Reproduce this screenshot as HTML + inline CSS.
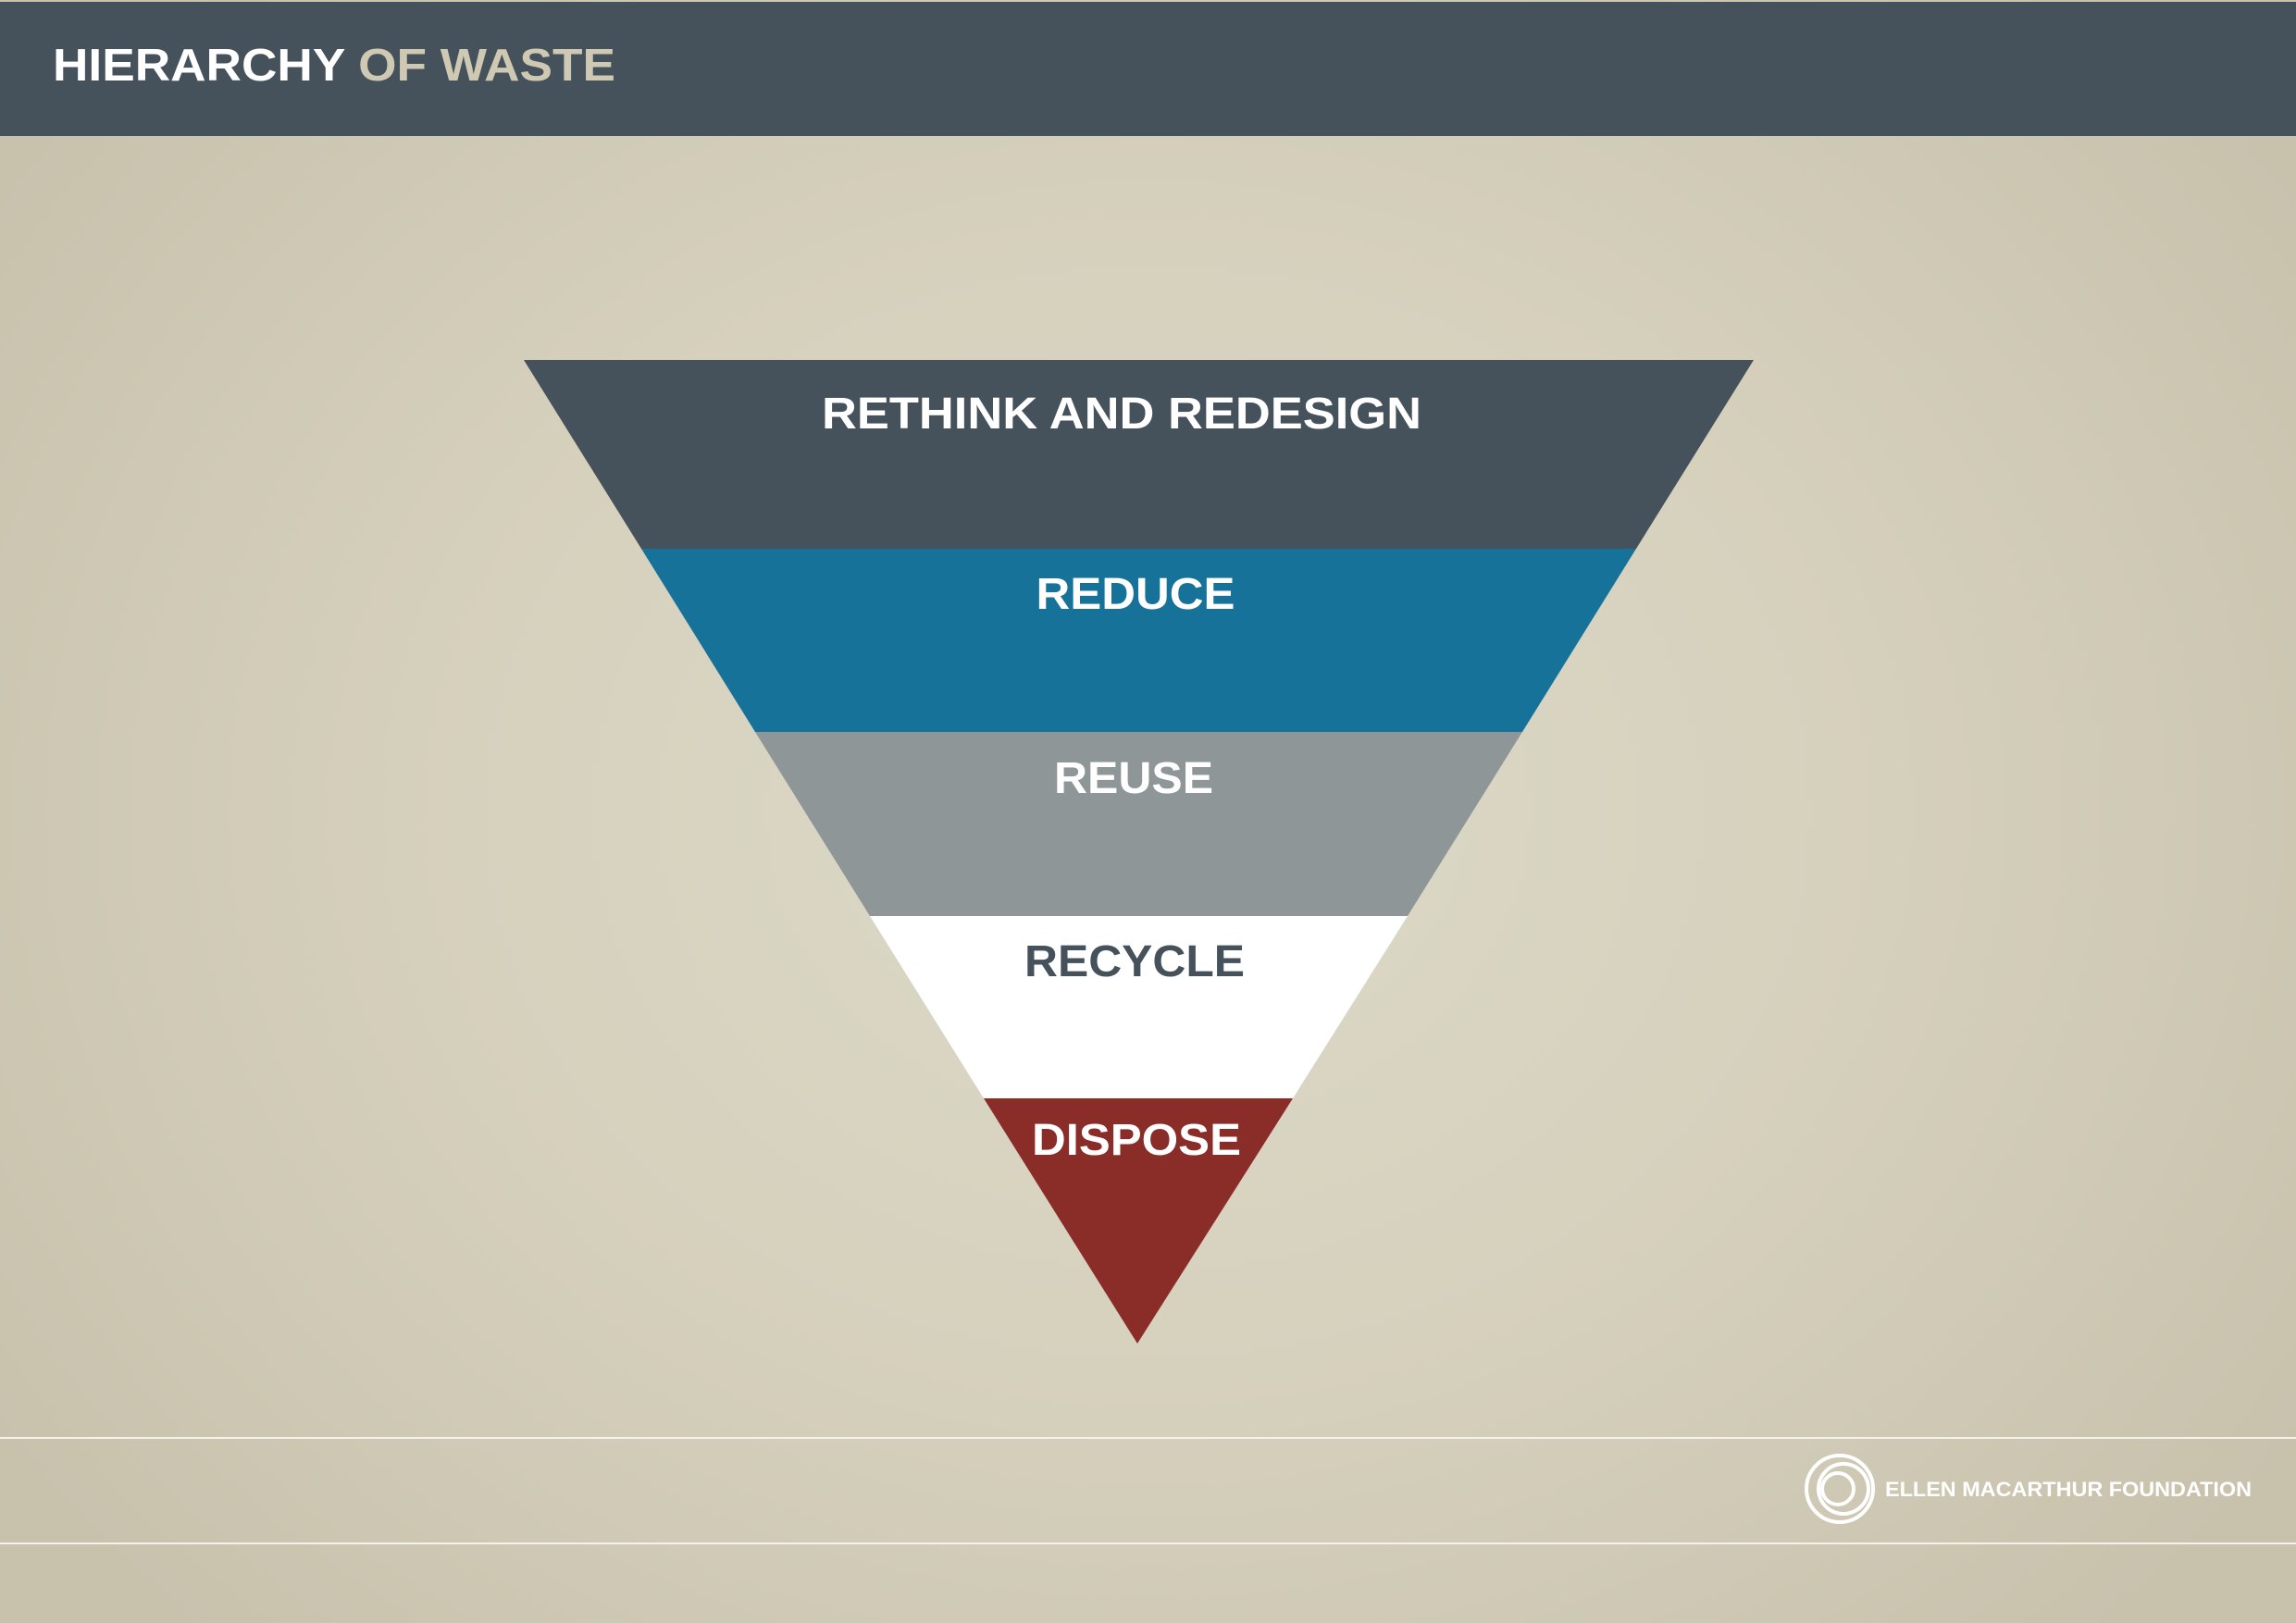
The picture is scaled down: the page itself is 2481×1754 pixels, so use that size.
<!DOCTYPE html>
<html><head><meta charset="utf-8"><style>
html,body{margin:0;padding:0;width:2481px;height:1754px;overflow:hidden}
body{background:radial-gradient(ellipse 60% 70% at 50% 50%, #dcd9c8 0%, #d6d1bd 50%, #c8c2ad 100%);font-family:"Liberation Sans",sans-serif}
</style></head><body>
<svg width="2481" height="1754" viewBox="0 0 2481 1754" xmlns="http://www.w3.org/2000/svg" style="position:absolute;left:0;top:0">
<rect x="0" y="2" width="2481" height="145" fill="#46525b"/>
<text x="57" y="87" font-family="Liberation Sans, sans-serif" font-weight="bold" font-size="49" textLength="608" lengthAdjust="spacingAndGlyphs"><tspan fill="#ffffff">HIERARCHY </tspan><tspan fill="#cfc9b3">OF WASTE</tspan></text>
<polygon points="566,389 1895,389 1768,593 693,593" fill="#46525b"/>
<polygon points="693,593 1768,593 1645,791 816,791" fill="#17729a"/>
<polygon points="816,791 1645,791 1521,990 940,990" fill="#8e9698"/>
<polygon points="940,990 1521,990 1397,1187 1063,1187" fill="#ffffff"/>
<polygon points="1063,1187 1397,1187 1229,1452" fill="#8a2c28"/>
<g font-family="Liberation Sans, sans-serif" font-weight="bold" font-size="48" text-anchor="middle" fill="#ffffff">
<text x="1212" y="463" textLength="648" lengthAdjust="spacingAndGlyphs">RETHINK AND REDESIGN</text>
<text x="1227" y="658" textLength="215" lengthAdjust="spacingAndGlyphs">REDUCE</text>
<text x="1225" y="857" textLength="172" lengthAdjust="spacingAndGlyphs">REUSE</text>
<text x="1226" y="1055" textLength="238" lengthAdjust="spacingAndGlyphs" fill="#46525b">RECYCLE</text>
<text x="1228" y="1248" textLength="226" lengthAdjust="spacingAndGlyphs">DISPOSE</text>
</g>
<line x1="0" y1="1554" x2="2481" y2="1554" stroke="#f4f2ea" stroke-width="2"/>
<line x1="0" y1="1668" x2="2481" y2="1668" stroke="#f4f2ea" stroke-width="2"/>
<g fill="none" stroke="#ffffff" stroke-width="4">
<circle cx="1988" cy="1609" r="36"/>
<circle cx="1992" cy="1609" r="27"/>
<circle cx="1986" cy="1609" r="17"/>
</g>
<text x="2037" y="1617" font-family="Liberation Sans, sans-serif" font-weight="bold" font-size="22" fill="#ffffff" textLength="396" lengthAdjust="spacingAndGlyphs">ELLEN MACARTHUR FOUNDATION</text>
</svg>
</body></html>
